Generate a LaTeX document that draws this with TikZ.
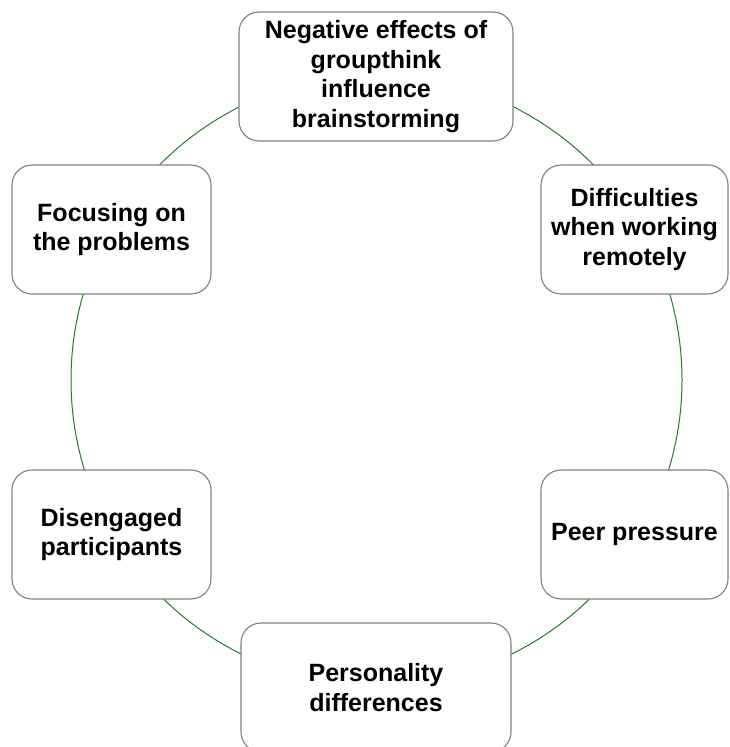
\documentclass[tikz,border=0pt]{standalone}
\usepackage{fontspec}
\setmainfont{Liberation Sans}
\definecolor{ringgreen}{RGB}{38,122,40}
\definecolor{boxgray}{RGB}{128,128,128}
\begin{document}
\begin{tikzpicture}[x=1pt,y=-1pt,
  box/.style={draw=boxgray, line width=1.1pt, fill=white, rounded corners=20pt,
    minimum height=129pt, inner sep=0pt, align=center,
    font=\fontsize{25}{29.5}\selectfont\bfseries},
  ring/.style={draw=ringgreen, line width=1pt}]
\useasboundingbox (0,0) rectangle (729,747);
\clip (0,0) rectangle (729,747);
\fill[white] (0,0) rectangle (729,747);
\coordinate (c) at (376.5,380);
\draw[ring] (c) circle[radius=305.5pt];
\node[box, minimum width=274pt] (top) at (376,76.5) {Negative effects of\\groupthink\\influence\\brainstorming};
\node[box, minimum width=187pt] (rt) at (634.5,229.5) {Difficulties\\when working\\remotely};
\node[box, minimum width=187pt] (rb) at (634.5,534.5) {Peer pressure};
\node[box, minimum width=270pt] (bot) at (376,687.5) {Personality\\differences};
\node[box, minimum width=199pt] (lb) at (111.5,534.5) {Disengaged\\participants};
\node[box, minimum width=199pt] (lt) at (111.5,229.5) {Focusing on\\the problems};
\end{tikzpicture}
\end{document}
